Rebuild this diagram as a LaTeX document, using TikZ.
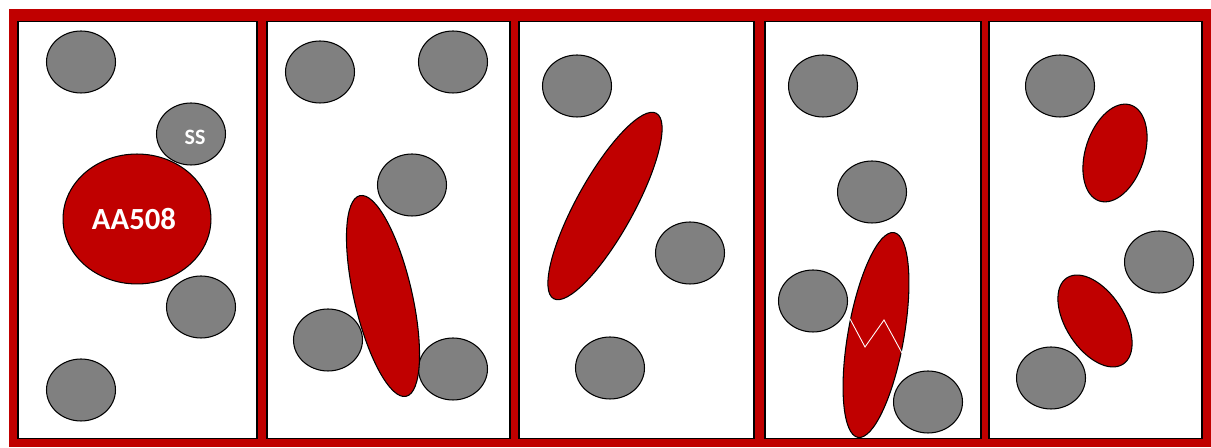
\documentclass[tikz,border=0pt]{standalone}
\usepackage{fontspec}
\setmainfont{Carlito}
\usepackage{xcolor}
\usepackage{tikz}
\usetikzlibrary{shapes.geometric}
\definecolor{bloodred}{HTML}{C00000}
\definecolor{cellgray}{HTML}{808080}

\begin{document}
\begin{tikzpicture}[
    x=0.02cm, y=-0.02cm,
    panel/.style={draw=black, fill=white, line width=0.6pt},
    cell/.style={ellipse, draw=black, fill=cellgray, line width=0.6pt, inner sep=0pt, minimum width=1.38cm, minimum height=1.24cm},
    blob/.style 2 args={ellipse, draw=black, fill=bloodred, line width=0.6pt, inner sep=0pt, minimum width=#1*0.04cm, minimum height=#2*0.04cm},
    tag/.style={text=white, inner sep=0pt}
]
\useasboundingbox (0,0) rectangle (1211,448);

% red frame and the five panels
\fill[bloodred] (9,9) rectangle (1211,447);
\foreach \l/\r in {18/257, 267/510, 519/754, 765/981, 989/1202}
    \draw[panel] (\l,21.5) rectangle (\r,438.5);

% panel 1
\node[cell] (c1a) at (81,62) {};
\node[cell] (ss) at (191,134) {};
\node[tag, font=\fontsize{12.5}{12.5}\selectfont\bfseries] (sstext) at ([shift={(4,3)}]ss.center) {SS};
\node[cell] (c1b) at (201,307) {};
\node[cell] (c1c) at (81,390) {};
\node[blob={74}{65}] (aa) at (137,219) {};
\node[tag, font=\fontsize{17.5}{17.5}\selectfont\bfseries] (aatext) at ([shift={(-3,0)}]aa.center) {AA508};

% panel 2
\node[cell] (c2a) at (320,72) {};
\node[cell] (c2b) at (453,62) {};
\node[cell] (c2c) at (412,185) {};
\node[cell] (c2d) at (328,340) {};
\node[cell] (c2e) at (453,369) {};
\node[blob={29}{103}, rotate=13] (r2) at (383,296) {};

% panel 3
\node[cell] (c3a) at (577,86) {};
\node[cell] (c3b) at (690,253) {};
\node[cell] (c3c) at (610,368) {};
\node[blob={28.5}{106}, rotate=-29] (r3) at (605,206) {};

% panel 4
\node[cell] (c4a) at (823,86) {};
\node[cell] (c4b) at (872,192) {};
\node[cell] (c4c) at (813,301) {};
\node[cell] (c4d) at (928,402) {};
\node[blob={28}{104}, rotate=-10] (r4) at (876,335) {};
\draw[white, line width=0.5pt] (849,317) -- (865,347) -- (884,320) -- (902,353);

% panel 5
\node[cell] (c5a) at (1060,86) {};
\node[cell] (c5b) at (1159,262) {};
\node[cell] (c5c) at (1051,378) {};
\node[blob={29.5}{50.5}, rotate=-18] (r5a) at (1115,153) {};
\node[blob={29}{51.5}, rotate=33] (r5b) at (1095,321) {};
\end{tikzpicture}
\end{document}
